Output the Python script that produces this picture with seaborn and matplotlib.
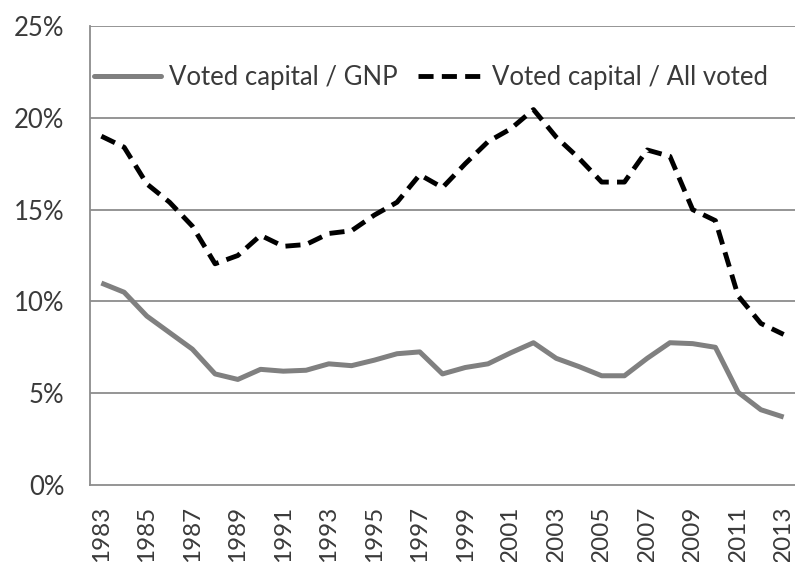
import matplotlib
matplotlib.use("Agg")
import matplotlib.pyplot as plt
from matplotlib.lines import Line2D
import numpy as np
import pandas as pd
import seaborn as sns

# Years and the two ratios (in percent)
years = list(range(1983, 2014))
gnp_share = [11.0, 10.5, 9.2, 8.3, 7.4, 6.05, 5.75, 6.3, 6.2, 6.25, 6.6, 6.5, 6.8, 7.15, 7.25,
             6.05, 6.4, 6.6, 7.2, 7.75, 6.9, 6.45, 5.95, 5.95, 6.9, 7.75, 7.7, 7.5, 5.05, 4.1, 3.7]
voted_share = [19.0, 18.4, 16.4, 15.4, 14.1, 12.05, 12.5, 13.6, 13.0, 13.1, 13.7, 13.85, 14.7, 15.4, 16.9,
               16.2, 17.5, 18.7, 19.4, 20.45, 18.95, 17.8, 16.5, 16.5, 18.25, 17.9, 15.0, 14.4, 10.3, 8.8, 8.2]
series_names = ["Voted capital / GNP", "Voted capital / All voted"]
y_ticks = [0, 5, 10, 15, 20, 25]

df = pd.DataFrame({
    "pos": list(range(len(years))) * 2,
    "value": gnp_share + voted_share,
    "series": [series_names[0]] * len(years) + [series_names[1]] * len(years),
})

sns.set_style("white")
plt.rcParams["font.family"] = ["Lato", "DejaVu Sans"]

FS = 18.5
FS_YEAR = 17.5
TEXT_COL = "#3a3a3a"
GRID_COL = "#8c8c8c"
GNP_COL = "#808080"
DASH = (0, (3.1, 1.7))

fig = plt.figure(figsize=(7.95, 5.62), dpi=100)
ax = fig.add_axes([0.1132, 0.137, 0.8868, 0.8167])

for t in y_ticks[1:]:
    ax.axhline(t, color=GRID_COL, lw=1.3, zorder=0)

sns.lineplot(data=df[df.series == series_names[0]], x="pos", y="value", color=GNP_COL,
             lw=3.6, ax=ax, legend=False, solid_joinstyle="round", solid_capstyle="butt")
sns.lineplot(data=df[df.series == series_names[1]], x="pos", y="value", color="#000000",
             lw=3.5, ax=ax, legend=False, dashes=False, linestyle=DASH,
             dash_capstyle="butt", dash_joinstyle="round")

ax.set_xlim(-0.5, len(years) - 0.5)
ax.set_ylim(0, 25)

ax.set_yticks(y_ticks)
ax.set_yticklabels([f"{t}%" for t in y_ticks], fontsize=FS, color=TEXT_COL)

ax.set_xticks(range(0, len(years), 2))
ax.set_xticklabels([str(y) for y in years[::2]], rotation=90, fontsize=FS_YEAR, color=TEXT_COL)
ax.set_xticks(np.arange(-0.5, len(years), 1.0), minor=True)
ax.tick_params(axis="x", which="major", length=0, pad=15)
ax.tick_params(axis="x", which="minor", length=7, width=1.2, color=GRID_COL, direction="out")
ax.tick_params(axis="y", which="major", length=6.5, width=1.2, color=GRID_COL, direction="out", pad=12)

for s in ["top", "right"]:
    ax.spines[s].set_visible(False)
for s in ["left", "bottom"]:
    ax.spines[s].set_color(GRID_COL)
    ax.spines[s].set_linewidth(1.3)

ax.set_xlabel("")
ax.set_ylabel("")

handles = [
    Line2D([], [], color=GNP_COL, lw=3.6),
    Line2D([], [], color="#000000", lw=3.5, linestyle=DASH, dash_capstyle="butt"),
]
ax.legend(handles, series_names, loc="center left", bbox_to_anchor=(0.006, 0.887),
          ncol=2, frameon=False, fontsize=FS, handlelength=2.6, handletextpad=0.3,
          columnspacing=0.8, borderaxespad=0, borderpad=0, labelcolor=TEXT_COL)

fig.savefig("out.png", dpi=100)
